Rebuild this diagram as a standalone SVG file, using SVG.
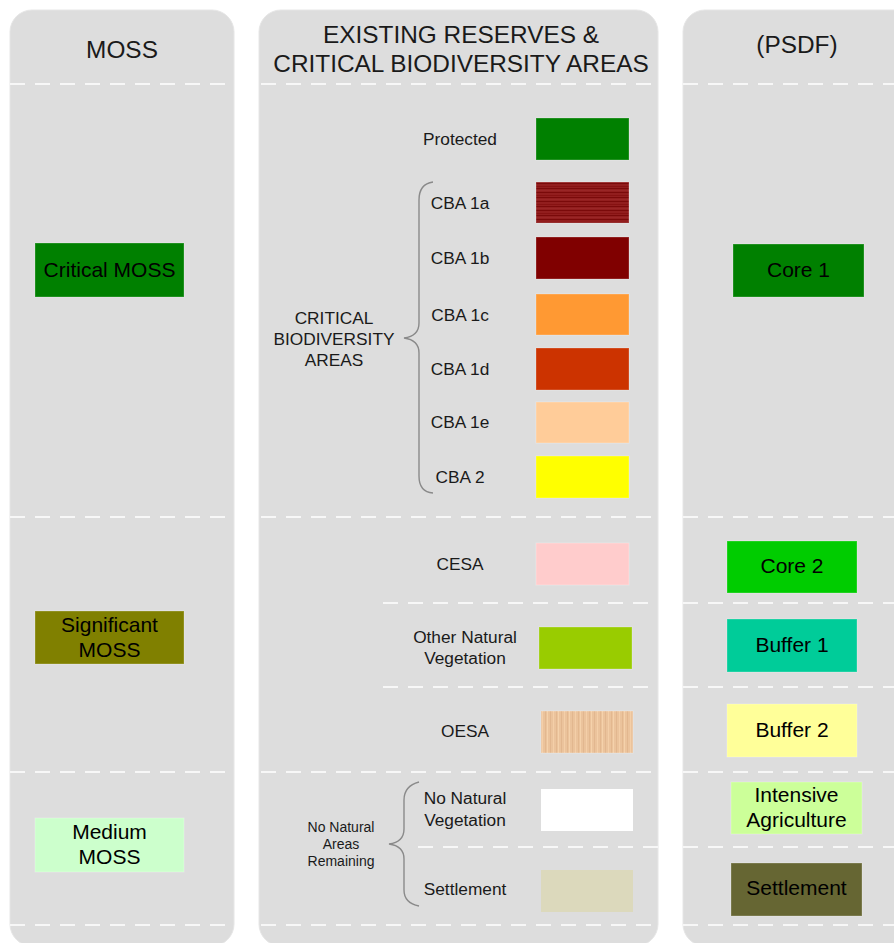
<svg xmlns="http://www.w3.org/2000/svg" width="894" height="943" viewBox="0 0 894 943">
<style>
.panel{fill:#dddddd;stroke:#e6e6e6;stroke-width:1}
.dash{stroke:#f7f7f7;stroke-width:2.2;stroke-dasharray:15 10;fill:none}
.brace{stroke:#8a8a8a;stroke-width:1.4;fill:none}
.hdr{font-family:"Liberation Sans",Arial,sans-serif;font-size:24.4px;fill:#1a1a1a;text-anchor:middle}
.lbl{font-family:"Liberation Sans",Arial,sans-serif;font-size:17.3px;fill:#1a1a1a;text-anchor:middle}
.sm{font-family:"Liberation Sans",Arial,sans-serif;font-size:14px;fill:#1a1a1a;text-anchor:middle}
.nt{font-family:"Liberation Sans",Arial,sans-serif;font-size:21px;fill:#000;text-anchor:middle}
.box{stroke:#ffffff;stroke-opacity:0.25;stroke-width:1}
</style>
<defs>
<pattern id="hstripe" patternUnits="userSpaceOnUse" x="0" y="182" width="10" height="9">
<rect width="10" height="9" fill="#921e1e"/>
<rect y="1" width="10" height="1" fill="#7a0a0a"/>
<rect y="4" width="10" height="0.8" fill="#840f0f"/>
<rect y="6" width="10" height="1" fill="#7a0a0a"/>
<rect y="8" width="10" height="0.6" fill="#9e2a2a"/>
</pattern>
<pattern id="vstripe" patternUnits="userSpaceOnUse" x="541" y="0" width="11" height="10">
<rect width="11" height="10" fill="#ebc39c"/>
<rect x="1" width="1" height="10" fill="#f4cfa8"/>
<rect x="4" width="0.8" height="10" fill="#e2b58c"/>
<rect x="6" width="1" height="10" fill="#f5d2ab"/>
<rect x="9" width="0.7" height="10" fill="#dfb28a"/>
</pattern>
</defs>
<rect width="894" height="943" fill="#ffffff"/>

<g id="panels">
<rect class="panel" x="10" y="10" width="224" height="936" rx="22"/>
<rect class="panel" x="259" y="10" width="399" height="936" rx="22"/>
<rect class="panel" x="683" y="10" width="240" height="936" rx="22"/>
</g>

<g id="dividers">
<path class="dash" d="M10 84H234M10 517H234M10 772H234M10 925H234"/>
<path class="dash" d="M261 84H658M261 517H658M261 772H658M261 925H658"/>
<path class="dash" d="M383 603H658M383 687H658M418 847H658"/>
<path class="dash" d="M683 84H894M683 517H894M683 603H894M683 687H894M683 772H894M683 847H894M683 925H894"/>
</g>

<g id="headers">
<text class="hdr" x="122" y="58">MOSS</text>
<text class="hdr" x="461" y="43">EXISTING RESERVES &amp;</text>
<text class="hdr" x="461" y="72">CRITICAL BIODIVERSITY AREAS</text>
<text class="hdr" x="797" y="53">(PSDF)</text>
</g>

<g id="moss-critical"><rect class="box" x="35" y="243" width="149" height="54" fill="#008000"/><text class="nt" x="109.5" y="277">Critical MOSS</text></g>
<g id="moss-significant"><rect class="box" x="35" y="611" width="149" height="53" fill="#808000"/><text class="nt" x="109.5" y="632">Significant</text><text class="nt" x="109.5" y="657">MOSS</text></g>
<g id="moss-medium"><rect class="box" x="35" y="818" width="149" height="54" fill="#ccffcc"/><text class="nt" x="109.5" y="839">Medium</text><text class="nt" x="109.5" y="864">MOSS</text></g>

<g id="protected"><text class="lbl" x="460" y="145">Protected</text><rect class="box" x="536" y="118" width="93" height="42" fill="#008000"/></g>
<g id="cba1a"><text class="lbl" x="460" y="209">CBA 1a</text><rect class="box" x="536" y="182" width="93" height="41" fill="url(#hstripe)"/></g>
<g id="cba1b"><text class="lbl" x="460" y="264">CBA 1b</text><rect class="box" x="536" y="237" width="93" height="42" fill="#800000"/></g>
<g id="cba1c"><text class="lbl" x="460" y="321">CBA 1c</text><rect class="box" x="536" y="294" width="93" height="41" fill="#ff9933"/></g>
<g id="cba1d"><text class="lbl" x="460" y="375">CBA 1d</text><rect class="box" x="536" y="348" width="93" height="42" fill="#cc3300"/></g>
<g id="cba1e"><text class="lbl" x="460" y="428">CBA 1e</text><rect class="box" x="536" y="402" width="93" height="41" fill="#ffcc99"/></g>
<g id="cba2"><text class="lbl" x="460" y="483">CBA 2</text><rect class="box" x="536" y="456" width="93" height="42" fill="#ffff00"/></g>
<g id="cba-group"><text class="lbl" x="334" y="324">CRITICAL</text><text class="lbl" x="334" y="345">BIODIVERSITY</text><text class="lbl" x="334" y="366">AREAS</text></g>

<g id="cesa"><text class="lbl" x="460" y="570">CESA</text><rect class="box" x="536" y="543" width="93" height="42" fill="#ffcccc"/></g>
<g id="onv"><text class="lbl" x="465" y="643">Other Natural</text><text class="lbl" x="465" y="664">Vegetation</text><rect class="box" x="539" y="627" width="93" height="42" fill="#99cc00"/></g>
<g id="oesa"><text class="lbl" x="465" y="737">OESA</text><rect class="box" x="541" y="711" width="92" height="42" fill="url(#vstripe)"/></g>

<g id="nnv"><text class="lbl" x="465" y="804">No Natural</text><text class="lbl" x="465" y="826">Vegetation</text><rect x="541" y="789" width="92" height="42" fill="#ffffff"/></g>
<g id="settlement-area"><text class="lbl" x="465" y="895">Settlement</text><rect x="541" y="870" width="92" height="42" fill="#dcd9bc"/></g>
<g id="nnar"><text class="sm" x="341" y="832">No Natural</text><text class="sm" x="341" y="849">Areas</text><text class="sm" x="341" y="866">Remaining</text></g>

<g id="psdf-core1"><rect class="box" x="733" y="244" width="131" height="53" fill="#008000"/><text class="nt" x="798.5" y="277">Core 1</text></g>
<g id="psdf-core2"><rect class="box" x="727" y="541" width="130" height="52" fill="#00cc00"/><text class="nt" x="792" y="573">Core 2</text></g>
<g id="psdf-buffer1"><rect class="box" x="727" y="619" width="130" height="53" fill="#00cc99"/><text class="nt" x="792" y="652">Buffer 1</text></g>
<g id="psdf-buffer2"><rect class="box" x="727" y="704" width="130" height="53" fill="#ffff99"/><text class="nt" x="792" y="737">Buffer 2</text></g>
<g id="psdf-agri"><rect class="box" x="731" y="782" width="131" height="52" fill="#ccff99"/><text class="nt" x="796.5" y="802">Intensive</text><text class="nt" x="796.5" y="827">Agriculture</text></g>
<g id="psdf-settlement"><rect class="box" x="731" y="863" width="131" height="53" fill="#666633"/><text class="nt" x="796.5" y="895">Settlement</text></g>

<g id="connectors">
<path class="brace" d="M433 182Q419 184 419 200V323Q419 336 404 338Q419 340 419 353V476Q419 492 433 493"/>
<path class="brace" d="M419 782Q404 786 404 800V829Q404 842 389 844Q404 846 404 859V890Q404 903 419 906"/>
</g>
</svg>
